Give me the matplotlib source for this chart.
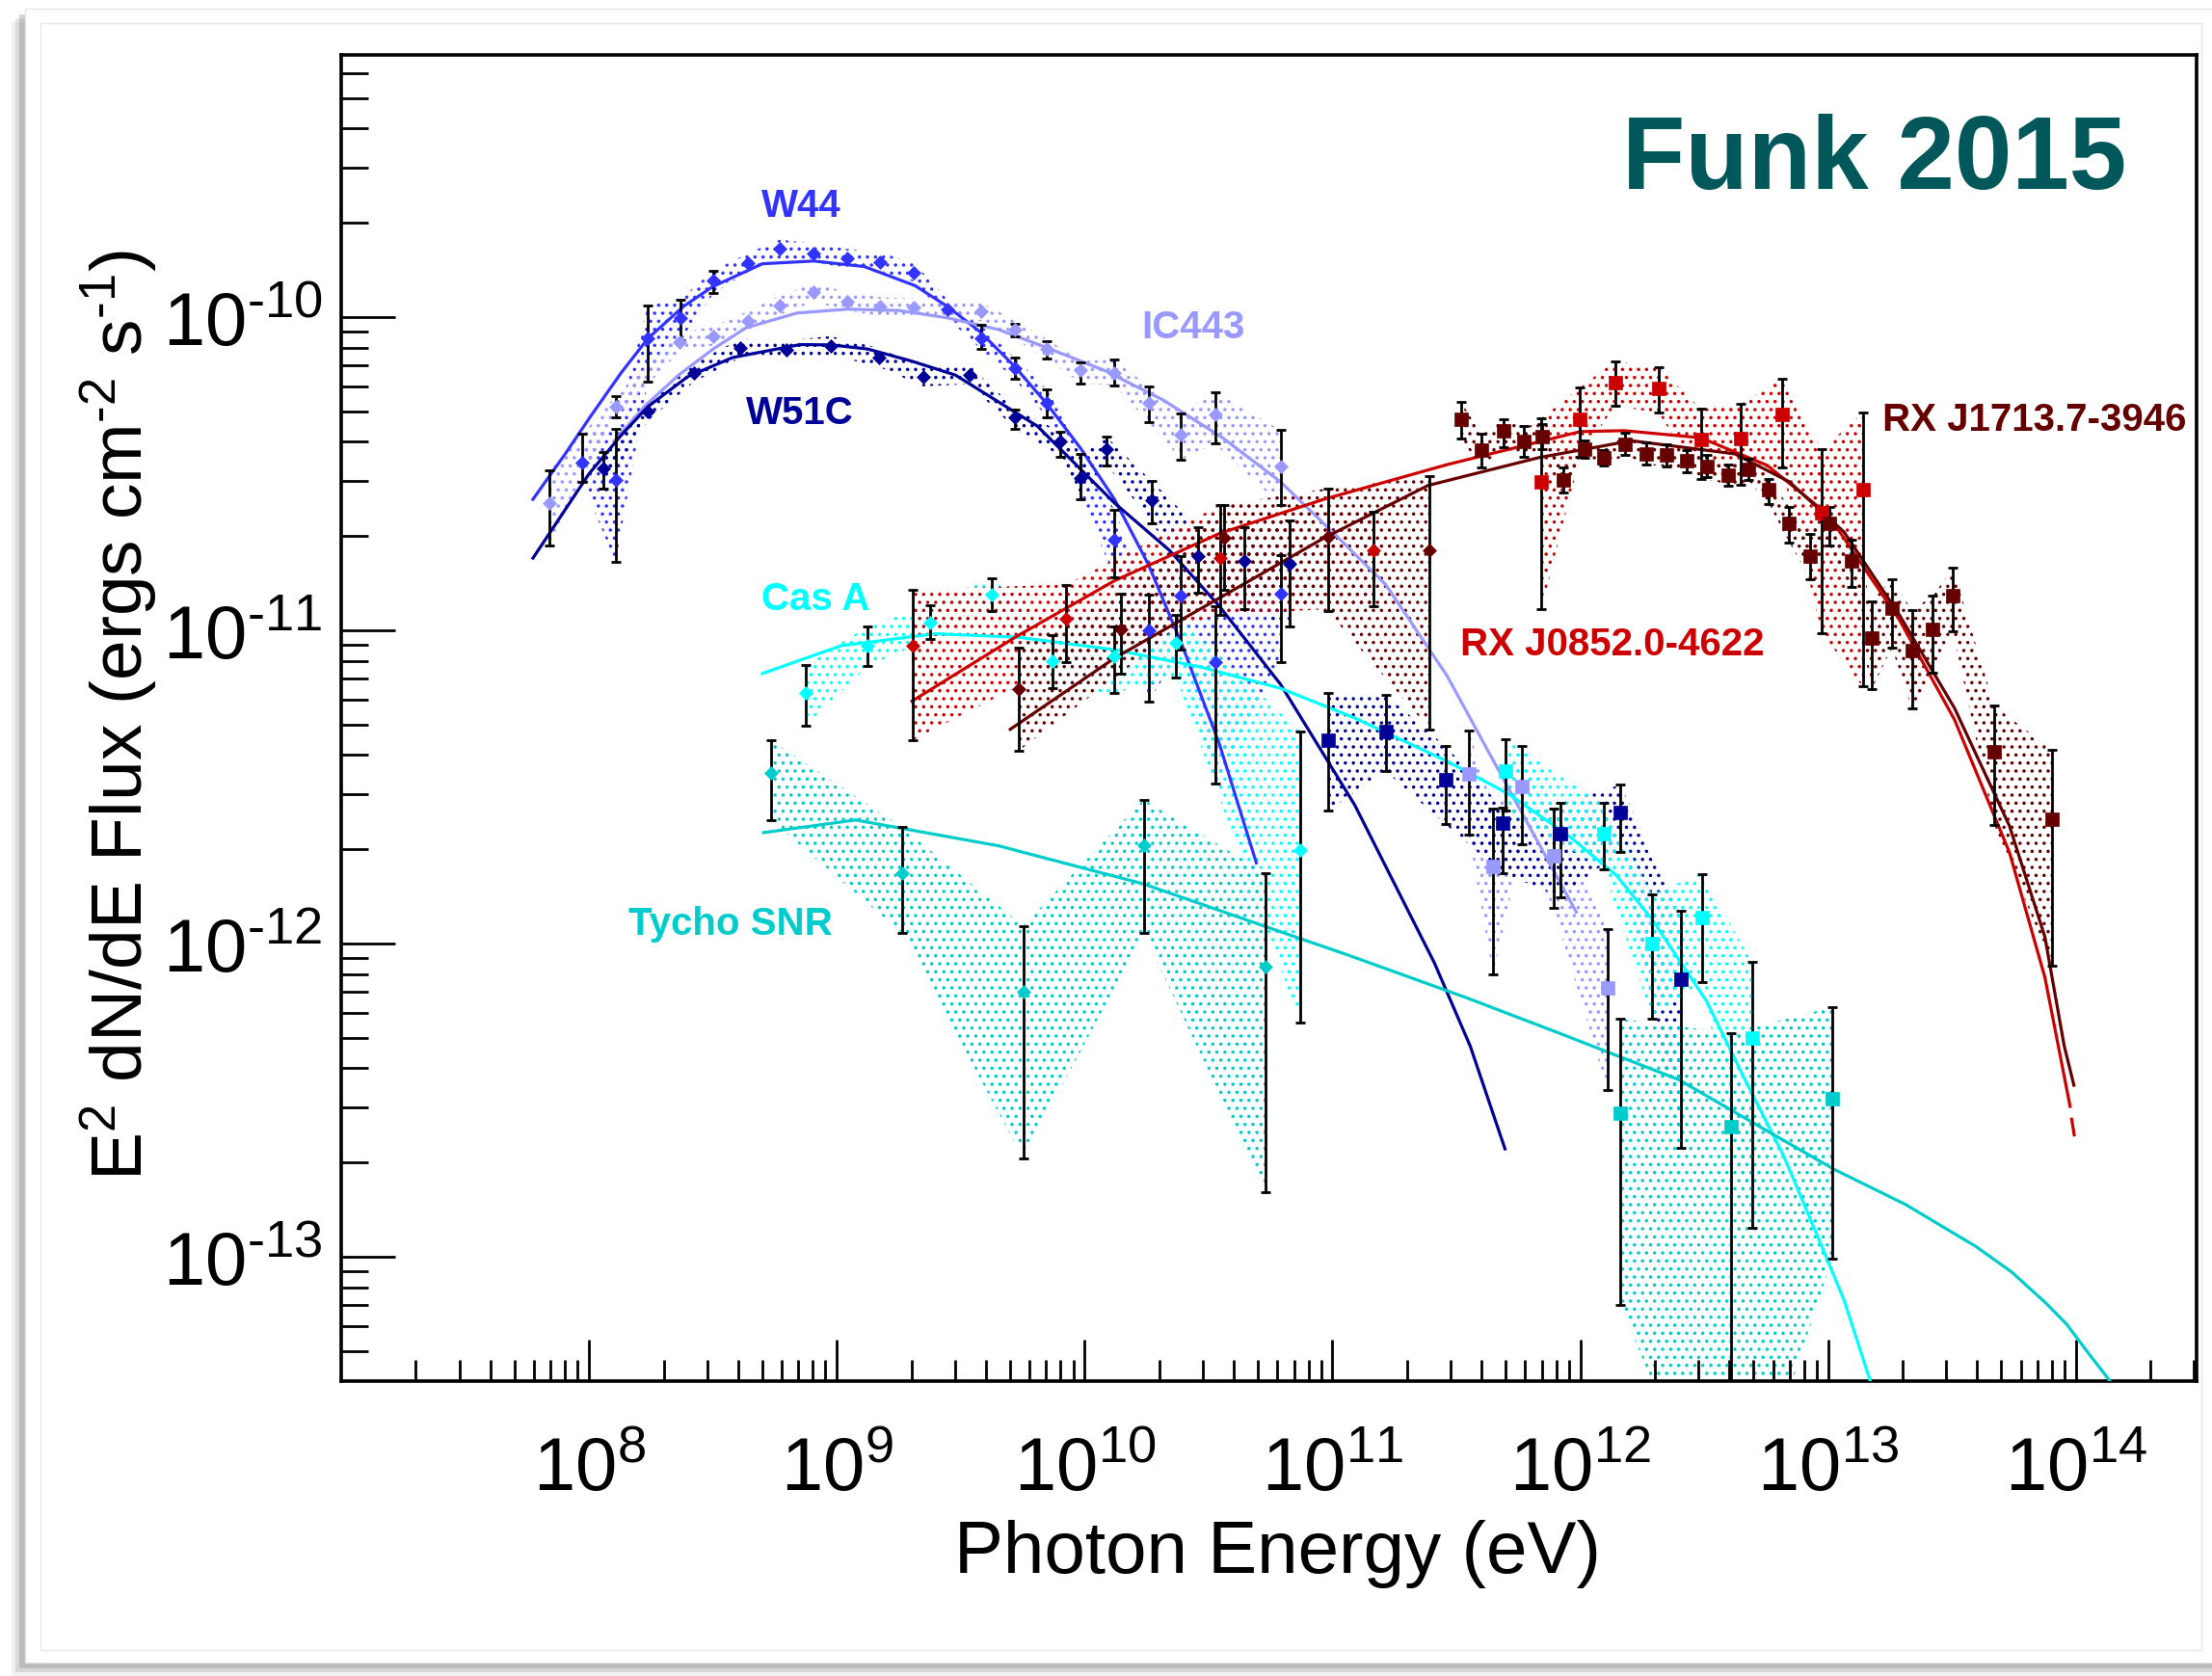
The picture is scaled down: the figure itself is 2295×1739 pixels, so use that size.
import numpy as np
import matplotlib
matplotlib.use("Agg")
import matplotlib.pyplot as plt
from matplotlib.patches import Rectangle
from matplotlib.ticker import FixedLocator, FixedFormatter, LogLocator, NullFormatter

plt.rcParams["font.family"] = ["Liberation Sans", "DejaVu Sans"]
plt.rcParams["mathtext.fontset"] = "custom"
plt.rcParams["mathtext.rm"] = "Liberation Sans"
plt.rcParams["mathtext.it"] = "Liberation Sans:italic"
plt.rcParams["mathtext.bf"] = "Liberation Sans:bold"
plt.rcParams["mathtext.default"] = "regular"
plt.rcParams["hatch.linewidth"] = 1.3

# ---------------- data (E in eV, E^2 dN/dE in erg cm^-2 s^-1) ----------------
# W44
W44_LAT_E = [9.40e7, 1.28e8, 1.73e8, 2.33e8, 3.18e8, 4.36e8, 5.89e8, 8.07e8, 1.10e9, 1.50e9,
             2.05e9, 2.80e9, 3.81e9, 5.22e9, 7.06e9, 1.32e10, 1.81e10, 2.45e10, 3.36e10, 6.17e10]
W44_LAT_F = [3.42e-11, 3.03e-11, 8.57e-11, 9.93e-11, 1.31e-10, 1.49e-10, 1.65e-10, 1.60e-10, 1.54e-10, 1.50e-10,
             1.39e-10, 1.06e-10, 8.57e-11, 6.87e-11, 5.33e-11, 1.94e-11, 9.98e-12, 1.29e-11, 7.91e-12, 1.31e-11]
W44_LAT_LO = [2.97e-11, 1.65e-11, 6.24e-11, 8.43e-11, 1.19e-10, 1.49e-10, 1.65e-10, 1.60e-10, 1.54e-10, 1.50e-10,
              1.39e-10, 1.06e-10, 7.91e-11, 6.34e-11, 4.78e-11, 1.48e-11, 5.92e-12, 8.65e-12, 3.24e-12, 7.94e-12]
W44_LAT_HI = [4.23e-11, 4.41e-11, 1.09e-10, 1.14e-10, 1.41e-10, 1.49e-10, 1.65e-10, 1.60e-10, 1.54e-10, 1.50e-10,
              1.39e-10, 1.06e-10, 9.42e-11, 7.43e-11, 5.86e-11, 2.42e-11, 1.30e-11, 1.73e-11, 1.19e-11, 1.74e-11]
W44_FIT_E = [5.94e7, 8.0e7, 1.02e8, 1.35e8, 1.73e8, 2.40e8, 3.15e8, 5.01e8, 8.07e8, 1.29e9,
             2.07e9, 2.80e9, 3.77e9, 5.20e9, 7.05e9, 9.66e9, 1.32e10, 1.81e10, 2.47e10, 3.50e10, 4.93e10]
W44_FIT_F = [2.62e-11, 3.65e-11, 4.85e-11, 6.65e-11, 8.55e-11, 1.08e-10, 1.25e-10, 1.48e-10, 1.51e-10, 1.45e-10,
             1.26e-10, 1.08e-10, 9.0e-11, 6.98e-11, 5.28e-11, 3.80e-11, 2.62e-11, 1.62e-11, 9.0e-12, 4.33e-12,
             1.81e-12]

# IC443
IC443_LAT_E = [6.95e7, 1.28e8, 2.32e8, 3.18e8, 4.36e8, 5.89e8, 8.07e8, 1.10e9, 1.50e9, 2.05e9,
               3.81e9, 5.22e9, 7.06e9, 9.66e9, 1.32e10, 1.81e10, 2.45e10, 3.36e10, 6.17e10]
IC443_LAT_F = [2.54e-11, 5.16e-11, 8.30e-11, 8.71e-11, 9.73e-11, 1.09e-10, 1.20e-10, 1.12e-10, 1.08e-10, 1.07e-10,
               1.04e-10, 9.12e-11, 7.91e-11, 6.76e-11, 6.65e-11, 5.33e-11, 4.21e-11, 4.88e-11, 3.34e-11]
IC443_LAT_LO = [1.87e-11, 4.78e-11, 8.30e-11, 8.71e-11, 9.73e-11, 1.09e-10, 1.20e-10, 1.12e-10, 1.08e-10, 1.07e-10,
                1.04e-10, 8.71e-11, 7.38e-11, 6.14e-11, 6.05e-11, 4.62e-11, 3.51e-11, 3.94e-11, 2.51e-11]
IC443_LAT_HI = [3.24e-11, 5.58e-11, 8.30e-11, 8.71e-11, 9.73e-11, 1.09e-10, 1.20e-10, 1.12e-10, 1.08e-10, 1.07e-10,
                1.04e-10, 9.55e-11, 8.38e-11, 7.19e-11, 7.31e-11, 6.01e-11, 4.92e-11, 5.77e-11, 4.36e-11]
IC443_TEV_E = [3.55e11, 4.45e11, 5.83e11, 7.80e11, 1.29e12]
IC443_TEV_F = [3.48e-12, 1.76e-12, 3.18e-12, 1.91e-12, 7.21e-13]
IC443_TEV_LO = [2.22e-12, 7.98e-13, 2.07e-12, 1.30e-12, 3.40e-13]
IC443_TEV_HI = [4.79e-12, 2.70e-12, 4.27e-12, 2.70e-12, 1.11e-12]
IC443_FIT_E = [1.26e8, 1.70e8, 2.30e8, 3.20e8, 4.31e8, 6.90e8, 1.10e9, 1.78e9, 2.82e9, 4.50e9,
               7.05e9, 1.20e10, 2.08e10, 3.60e10, 6.17e10, 1.00e11, 1.64e11, 2.90e11, 5.11e11, 9.64e11]
IC443_FIT_F = [4.01e-11, 5.25e-11, 6.53e-11, 7.95e-11, 9.25e-11, 1.03e-10, 1.06e-10, 1.05e-10, 9.93e-11, 9.12e-11,
               7.98e-11, 6.76e-11, 5.43e-11, 4.12e-11, 2.98e-11, 2.06e-11, 1.40e-11, 7.16e-12, 3.15e-12, 1.26e-12]

# W51C
W51C_LAT_E = [1.14e8, 1.73e8, 2.65e8, 4.09e8, 6.28e8, 9.44e8, 1.48e9, 2.23e9, 3.43e9, 5.22e9,
              8.00e9, 9.66e9, 1.23e10, 1.87e10, 2.88e10, 4.39e10, 6.73e10]
W51C_LAT_F = [3.29e-11, 5.00e-11, 6.65e-11, 7.96e-11, 7.87e-11, 8.11e-11, 7.43e-11, 6.44e-11, 6.55e-11, 4.78e-11,
              4.00e-11, 3.07e-11, 3.78e-11, 2.60e-11, 1.73e-11, 1.66e-11, 1.63e-11]
W51C_LAT_LO = [2.83e-11, 5.00e-11, 6.65e-11, 7.96e-11, 7.87e-11, 8.11e-11, 7.43e-11, 6.44e-11, 6.55e-11, 4.41e-11,
               3.59e-11, 2.62e-11, 3.37e-11, 2.20e-11, 1.32e-11, 1.17e-11, 1.03e-11]
W51C_LAT_HI = [3.71e-11, 5.00e-11, 6.65e-11, 7.96e-11, 7.87e-11, 8.11e-11, 7.43e-11, 6.44e-11, 6.55e-11, 5.08e-11,
               4.30e-11, 3.65e-11, 4.14e-11, 2.99e-11, 2.13e-11, 2.14e-11, 2.24e-11]
W51C_TEV_E = [9.57e10, 1.64e11, 2.86e11, 4.86e11, 8.32e11, 1.45e12, 2.54e12]
W51C_TEV_F = [4.46e-12, 4.76e-12, 3.34e-12, 2.42e-12, 2.24e-12, 2.63e-12, 7.67e-13]
W51C_TEV_LO = [2.65e-12, 3.55e-12, 2.40e-12, 1.68e-12, 1.41e-12, 1.96e-12, 2.22e-13]
W51C_TEV_HI = [6.32e-12, 6.24e-12, 4.27e-12, 2.72e-12, 2.82e-12, 3.21e-12, 1.27e-12]
W51C_FIT_E = [5.94e7, 1.0e8, 1.35e8, 1.73e8, 2.50e8, 3.80e8, 7.11e8, 9.50e8, 1.33e9, 2.00e9,
              3.01e9, 6.44e9, 1.32e10, 2.20e10, 3.51e10, 6.17e10, 1.23e11, 2.58e11, 3.60e11, 4.97e11]
W51C_FIT_F = [1.70e-11, 3.16e-11, 4.20e-11, 5.18e-11, 6.45e-11, 7.43e-11, 8.17e-11, 8.15e-11, 7.91e-11, 7.24e-11,
              6.53e-11, 4.49e-11, 2.55e-11, 1.80e-11, 1.19e-11, 6.73e-12, 2.77e-12, 8.67e-13, 4.70e-13, 2.21e-13]

# Cas A
CASA_LAT_E = [7.48e8, 1.33e9, 2.37e9, 4.21e9, 7.43e9, 1.32e10, 2.34e10, 7.41e10]
CASA_LAT_F = [6.31e-12, 8.93e-12, 1.06e-11, 1.30e-11, 8.00e-12, 8.28e-12, 9.10e-12, 1.99e-12]
CASA_LAT_LO = [4.97e-12, 7.67e-12, 9.38e-12, 1.15e-11, 6.52e-12, 6.31e-12, 7.08e-12, 5.58e-13]
CASA_LAT_HI = [7.74e-12, 1.03e-11, 1.20e-11, 1.47e-11, 9.68e-12, 1.03e-11, 1.12e-11, 4.76e-12]
CASA_TEV_E = [4.98e11, 1.24e12, 1.95e12, 3.09e12, 4.93e12]
CASA_TEV_F = [3.55e-12, 2.25e-12, 1.00e-12, 1.21e-12, 5.00e-13]
CASA_TEV_LO = [2.65e-12, 1.73e-12, 5.77e-13, 7.52e-13, 1.24e-13]
CASA_TEV_HI = [4.50e-12, 2.82e-12, 1.44e-12, 1.67e-12, 8.73e-13]
CASA_FIT_E = [5.01e8, 1.04e9, 2.49e9, 5.35e9, 1.32e10, 2.93e10, 6.17e10, 1.23e11, 2.90e11, 5.11e11,
              8.97e11, 1.40e12, 1.94e12, 3.24e12, 4.62e12, 6.62e12, 9.0e12, 1.16e13, 1.48e13]
CASA_FIT_F = [7.28e-12, 8.93e-12, 9.75e-12, 9.51e-12, 8.67e-12, 7.64e-12, 6.53e-12, 5.25e-12, 3.82e-12, 3.01e-12,
              2.21e-12, 1.65e-12, 1.20e-12, 6.53e-13, 3.68e-13, 2.10e-13, 1.18e-13, 7.28e-14, 4.01e-14]

# Tycho
TYCHO_LAT_E = [5.45e8, 1.83e9, 5.65e9, 1.73e10, 5.37e10]
TYCHO_LAT_F = [3.51e-12, 1.68e-12, 7.02e-13, 2.06e-12, 8.45e-13]
TYCHO_LAT_LO = [2.47e-12, 1.08e-12, 2.06e-13, 1.08e-12, 1.61e-13]
TYCHO_LAT_HI = [4.45e-12, 2.35e-12, 1.14e-12, 2.88e-12, 1.68e-12]
TYCHO_TEV_E = [1.45e12, 4.05e12, 1.04e13]
TYCHO_TEV_F = [2.87e-13, 2.60e-13, 3.20e-13]
TYCHO_TEV_LO = [7.02e-14, 1.0e-14, 9.89e-14]
TYCHO_TEV_HI = [5.75e-13, 5.18e-13, 6.27e-13]
TYCHO_FIT_E = [5.06e8, 1.19e9, 4.51e9, 1.73e10, 5.25e10, 1.16e11, 3.50e11, 8.20e11, 2.49e12, 6.0e12,
               1.06e13, 2.05e13, 3.94e13, 5.50e13, 7.59e13, 9.20e13, 1.12e14, 1.37e14]
TYCHO_FIT_F = [2.26e-12, 2.48e-12, 2.05e-12, 1.55e-12, 1.14e-12, 9.18e-13, 6.70e-13, 5.18e-13, 3.68e-13, 2.46e-13,
               1.90e-13, 1.47e-13, 1.08e-13, 8.95e-14, 7.10e-14, 6.08e-14, 4.94e-14, 4.02e-14]

# RX J0852.0-4622
J0852_LAT_E = [2.03e9, 8.43e9, 3.51e10, 1.47e11]
J0852_LAT_F = [8.95e-12, 1.09e-11, 1.70e-11, 1.80e-11]
J0852_LAT_LO = [4.47e-12, 7.94e-12, 1.12e-11, 1.19e-11]
J0852_LAT_HI = [1.35e-11, 1.40e-11, 2.51e-11, 2.39e-11]
J0852_TEV_E = [6.98e11, 9.98e11, 1.38e12, 2.07e12, 3.07e12, 4.44e12, 6.50e12, 9.46e12, 1.38e13]
J0852_TEV_F = [2.98e-11, 4.72e-11, 6.19e-11, 5.90e-11, 4.07e-11, 4.09e-11, 4.90e-11, 2.38e-11, 2.81e-11]
J0852_TEV_LO = [1.17e-11, 3.58e-11, 5.20e-11, 4.95e-11, 3.04e-11, 2.92e-11, 3.30e-11, 9.77e-12, 6.61e-12]
J0852_TEV_HI = [4.76e-11, 5.96e-11, 7.23e-11, 6.92e-11, 5.09e-11, 5.27e-11, 6.37e-11, 3.78e-11, 4.95e-11]
J0852_FIT_E = [2.01e9, 5.30e9, 1.32e10, 3.51e10, 9.23e10, 2.90e11, 1.00e12, 1.50e12, 3.06e12, 5.69e12,
               1.00e13, 1.94e13, 3.24e13, 5.40e13, 7.50e13, 9.48e13]
J0852_FIT_F = [5.94e-12, 9.55e-12, 1.44e-11, 2.04e-11, 2.62e-11, 3.38e-11, 4.31e-11, 4.34e-11, 4.12e-11, 3.36e-11,
               2.34e-11, 1.08e-11, 5.18e-12, 1.95e-12, 7.80e-13, 3.02e-13]
# short dashed stub at the very end of the RX J0852 fit
J0852_TAIL_E = [9.62e13, 9.85e13]
J0852_TAIL_F = [2.75e-13, 2.45e-13]

# RX J1713.7-3946
J1713_LAT_E = [5.43e9, 1.40e10, 3.64e10, 9.57e10, 2.47e11]
J1713_LAT_F = [6.49e-12, 1.01e-11, 1.98e-11, 1.99e-11, 1.80e-11]
J1713_LAT_LO = [4.13e-12, 7.29e-12, 1.35e-11, 1.15e-11, 4.83e-12]
J1713_LAT_HI = [8.83e-12, 1.31e-11, 2.51e-11, 2.84e-11, 3.10e-11]
J1713_TEV_E = [3.30e11, 3.98e11, 4.89e11, 5.90e11, 7.00e11, 8.57e11, 1.04e12, 1.24e12, 1.52e12, 1.84e12,
               2.22e12, 2.69e12, 3.25e12, 3.94e12, 4.75e12, 5.77e12, 6.98e12, 8.45e12, 1.01e13, 1.24e13,
               1.50e13, 1.81e13, 2.18e13, 2.65e13, 3.19e13, 4.69e13, 8.02e13]
J1713_TEV_F = [4.72e-11, 3.77e-11, 4.33e-11, 4.01e-11, 4.16e-11, 3.02e-11, 3.78e-11, 3.55e-11, 3.93e-11, 3.66e-11,
               3.62e-11, 3.47e-11, 3.34e-11, 3.13e-11, 3.27e-11, 2.81e-11, 2.20e-11, 1.73e-11, 2.20e-11, 1.67e-11,
               9.46e-12, 1.18e-11, 8.59e-12, 1.01e-11, 1.29e-11, 4.09e-12, 2.49e-12]
J1713_TEV_LO = [4.09e-11, 3.30e-11, 3.85e-11, 3.58e-11, 3.80e-11, 2.75e-11, 3.55e-11, 3.35e-11, 3.63e-11, 3.38e-11,
                3.34e-11, 3.20e-11, 3.08e-11, 2.89e-11, 3.02e-11, 2.53e-11, 1.91e-11, 1.46e-11, 1.86e-11, 1.38e-11,
                6.49e-12, 8.79e-12, 5.62e-12, 7.33e-12, 9.93e-12, 2.39e-12, 8.49e-13]
J1713_TEV_HI = [5.37e-11, 4.25e-11, 4.72e-11, 4.48e-11, 4.57e-11, 3.30e-11, 4.03e-11, 3.76e-11, 4.26e-11, 3.97e-11,
                3.92e-11, 3.76e-11, 3.62e-11, 3.39e-11, 3.54e-11, 3.04e-11, 2.48e-11, 2.03e-11, 2.48e-11, 1.95e-11,
                1.24e-11, 1.46e-11, 1.16e-11, 1.29e-11, 1.58e-11, 5.74e-12, 4.14e-12]
J1713_FIT_E = [5.01e9, 1.32e10, 3.51e10, 9.23e10, 2.43e11, 6.81e11, 1.61e12, 4.20e12, 6.98e12, 1.16e13,
               1.94e13, 3.24e13, 5.40e13, 7.50e13, 8.97e13, 9.82e13]
J1713_FIT_F = [4.83e-12, 8.15e-12, 1.27e-11, 1.97e-11, 2.90e-11, 3.56e-11, 4.03e-11, 3.66e-11, 2.98e-11, 2.06e-11,
               1.12e-11, 5.64e-12, 2.37e-12, 1.05e-12, 4.72e-13, 3.53e-13]

NAMES = ["W44", "IC443", "W51C", "Cas A", "Tycho SNR", "RX J0852.0-4622", "RX J1713.7-3946"]
COLORS = ["#3333ff", "#9999ff", "#000099", "#00ffff", "#00cccc", "#cc0000", "#660000"]
# label centres in pixels of the 2295x1740 canvas
LABEL_POS = [(831, 214), (1238, 340), (830, 429), (846, 622), (758, 959), (1673, 669), (2111, 436)]

X_DECADES = list(range(8, 15))
Y_DECADES = list(range(-13, -9))

W, H = 2295, 1740


def sup_label(k):
    # ROOT-style 10^k with a short hyphen instead of a wide minus sign
    s = str(k).replace("-", r"\text{-}")
    return r"$10^{%s}$" % s


def draw_band(ax, e, f, lo, hi, color):
    e, f, lo, hi = (np.asarray(a, float) for a in (e, f, lo, hi))
    pad = 10 ** 0.03
    blo = np.minimum(lo, f / pad)
    bhi = np.maximum(hi, f * pad)
    ax.fill_between(e, blo, bhi, facecolor="none", edgecolor=color, hatch="..",
                    linewidth=0, zorder=1)


def draw_points(ax, e, f, lo, hi, color, marker, ms):
    e, f, lo, hi = (np.asarray(a, float) for a in (e, f, lo, hi))
    has = hi > lo
    ax.errorbar(e[has], f[has], yerr=[f[has] - lo[has], hi[has] - f[has]], fmt="none",
                ecolor="black", elinewidth=2.0, capsize=3.8, capthick=2.0, zorder=4)
    ax.plot(e, f, ls="none", marker=marker, ms=ms, color=color, mec=color, mew=0.5, zorder=5)


fig = plt.figure(figsize=(W / 100, H / 100), dpi=100)


def px_rect(x0, y0, x1, y1, **kw):
    return Rectangle((x0 / W, 1 - y1 / H), (x1 - x0) / W, (y1 - y0) / H,
                     transform=fig.transFigure, **kw)


# card with a soft drop shadow
for off, a in [(14, 0.10), (10, 0.18), (6, 0.28)]:
    fig.add_artist(px_rect(26 - off, 10 + off, W, 1726 + off, facecolor="#707070",
                           edgecolor="none", alpha=a, zorder=-3))
fig.add_artist(px_rect(26, 10, W + 5, 1726, facecolor="white", edgecolor="#e4e4e4",
                       linewidth=1.0, zorder=-2))
fig.add_artist(px_rect(42, 25, 2284, 1713, facecolor="none", edgecolor="#e6e6e6",
                       linewidth=1.0, zorder=-1))

ax = fig.add_axes([354 / W, 1 - 1434 / H, (2279 - 354) / W, (1434 - 58) / H])
ax.set_xscale("log")
ax.set_yscale("log")
ax.set_xlim(1.0e7, 3.07e14)
ax.set_ylim(4.01e-14, 6.87e-10)

lat = [
    (W44_LAT_E, W44_LAT_F, W44_LAT_LO, W44_LAT_HI, 0),
    (IC443_LAT_E, IC443_LAT_F, IC443_LAT_LO, IC443_LAT_HI, 1),
    (W51C_LAT_E, W51C_LAT_F, W51C_LAT_LO, W51C_LAT_HI, 2),
    (CASA_LAT_E, CASA_LAT_F, CASA_LAT_LO, CASA_LAT_HI, 3),
    (TYCHO_LAT_E, TYCHO_LAT_F, TYCHO_LAT_LO, TYCHO_LAT_HI, 4),
    (J0852_LAT_E, J0852_LAT_F, J0852_LAT_LO, J0852_LAT_HI, 5),
    (J1713_LAT_E, J1713_LAT_F, J1713_LAT_LO, J1713_LAT_HI, 6),
]
tev = [
    (IC443_TEV_E, IC443_TEV_F, IC443_TEV_LO, IC443_TEV_HI, 1),
    (W51C_TEV_E, W51C_TEV_F, W51C_TEV_LO, W51C_TEV_HI, 2),
    (CASA_TEV_E, CASA_TEV_F, CASA_TEV_LO, CASA_TEV_HI, 3),
    (TYCHO_TEV_E, TYCHO_TEV_F, TYCHO_TEV_LO, TYCHO_TEV_HI, 4),
    (J0852_TEV_E, J0852_TEV_F, J0852_TEV_LO, J0852_TEV_HI, 5),
    (J1713_TEV_E, J1713_TEV_F, J1713_TEV_LO, J1713_TEV_HI, 6),
]
fits = [
    (W44_FIT_E, W44_FIT_F, 0), (IC443_FIT_E, IC443_FIT_F, 1), (W51C_FIT_E, W51C_FIT_F, 2),
    (CASA_FIT_E, CASA_FIT_F, 3), (TYCHO_FIT_E, TYCHO_FIT_F, 4), (J0852_FIT_E, J0852_FIT_F, 5),
    (J1713_FIT_E, J1713_FIT_F, 6),
]

for e, f, lo, hi, i in lat + tev:
    draw_band(ax, e, f, lo, hi, COLORS[i])
for e, f, i in fits:
    ax.plot(e, f, color=COLORS[i], lw=2.3, zorder=3, solid_joinstyle="round")
ax.plot(J0852_TAIL_E, J0852_TAIL_F, color=COLORS[5], lw=2.3, zorder=3)
for e, f, lo, hi, i in lat:
    draw_points(ax, e, f, lo, hi, COLORS[i], "D", 6.8)
for e, f, lo, hi, i in tev:
    draw_points(ax, e, f, lo, hi, COLORS[i], "s", 10)

# ROOT-like axes
ax.xaxis.set_major_locator(FixedLocator([10.0 ** k for k in X_DECADES]))
ax.xaxis.set_major_formatter(FixedFormatter([sup_label(k) for k in X_DECADES]))
ax.xaxis.set_minor_locator(LogLocator(base=10, subs=np.arange(2, 10), numticks=40))
ax.yaxis.set_major_locator(FixedLocator([10.0 ** k for k in Y_DECADES]))
ax.yaxis.set_major_formatter(FixedFormatter([sup_label(k) for k in Y_DECADES]))
ax.yaxis.set_minor_locator(LogLocator(base=10, subs=np.arange(2, 10), numticks=40))
ax.xaxis.set_minor_formatter(NullFormatter())
ax.yaxis.set_minor_formatter(NullFormatter())
ax.tick_params(which="both", direction="in", top=False, right=False, width=2.0, color="black")
ax.tick_params(axis="y", which="major", length=40, pad=14, labelsize=56)
ax.tick_params(axis="y", which="minor", length=20)
ax.tick_params(axis="x", which="major", length=31, pad=40, labelsize=56)
ax.tick_params(axis="x", which="minor", length=15.5)
for s in ax.spines.values():
    s.set_linewidth(2.6)

fig.text(1325 / W, 1 - 1632 / H, "Photon Energy (eV)", ha="center", va="baseline", fontsize=55)
fig.text(124 / W, 1 - 742 / H,
         r"E$^{2}$ dN/dE Flux (ergs cm$^{\text{-}2}$ s$^{\text{-}1}$)",
         ha="center", va="center", rotation=90, fontsize=54)

for name, color, (x, y) in zip(NAMES, COLORS, LABEL_POS):
    fig.text(x / W, 1 - y / H, name, color=color, fontsize=29, fontweight="bold",
             ha="center", va="center")

fig.text(2206 / W, 1 - 196 / H, "Funk 2015", color="#02575a", fontsize=77, fontweight="bold",
         ha="right", va="baseline")

fig.savefig("out.png", dpi=100)
